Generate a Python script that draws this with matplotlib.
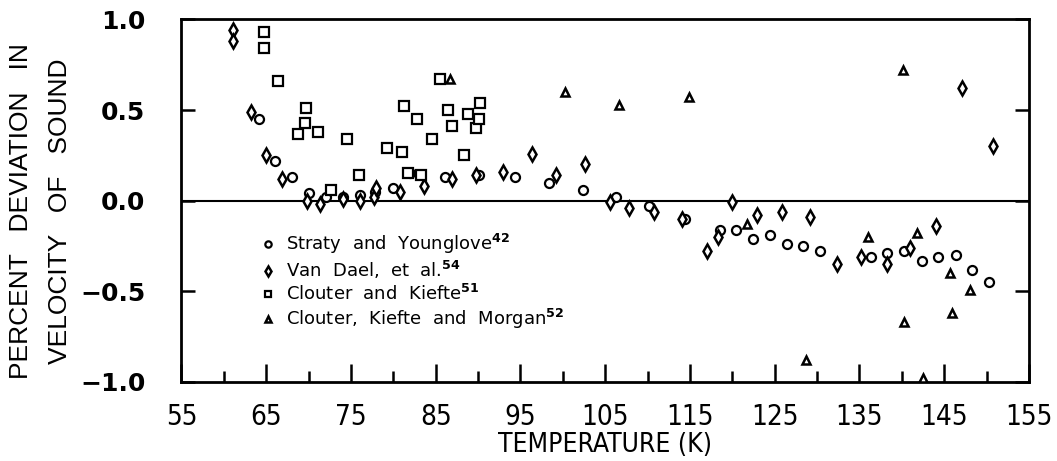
#!/usr/bin/env python

import matplotlib
matplotlib.use("Agg")
import matplotlib.pyplot as plt
from matplotlib.ticker import MultipleLocator

# Straty and Younglove (circles)
sy_t = [64.1, 66.0, 68.0, 70.0, 72.0, 74.0, 76.1, 77.8, 80.0, 82.0, 86.1, 90.1,
        94.3, 98.4, 102.4, 106.3, 110.2, 114.4, 118.5, 120.4, 122.4, 124.4, 126.4,
        128.3, 130.3, 136.4, 138.3, 140.3, 142.4, 144.3, 146.4, 148.3, 150.3]
sy_dev = [0.45, 0.22, 0.13, 0.04, 0.02, 0.02, 0.03, 0.05, 0.07, 0.15, 0.13, 0.14,
          0.13, 0.10, 0.06, 0.02, -0.03, -0.10, -0.16, -0.16, -0.21, -0.19, -0.24,
          -0.25, -0.28, -0.31, -0.29, -0.28, -0.33, -0.31, -0.30, -0.38, -0.45]

# Van Dael et al. (diamonds)
vd_t = [61.1, 61.1, 63.2, 65.0, 66.9, 69.8, 71.4, 74.0, 76.1, 77.7, 78.0, 80.8,
        83.6, 86.9, 89.8, 92.9, 96.3, 99.2, 102.6, 105.6, 107.8, 110.8, 114.1,
        117.0, 118.3, 120.0, 122.9, 125.9, 129.2, 132.3, 135.2, 138.2, 141.0,
        144.0, 147.1, 150.7]
vd_dev = [0.94, 0.88, 0.49, 0.25, 0.12, 0.00, -0.02, 0.01, 0.00, 0.02, 0.07, 0.05,
          0.08, 0.12, 0.14, 0.16, 0.26, 0.14, 0.20, -0.01, -0.04, -0.06, -0.10,
          -0.28, -0.20, -0.01, -0.08, -0.06, -0.09, -0.35, -0.31, -0.35, -0.26,
          -0.14, 0.62, 0.30]

# Clouter and Kiefte (squares)
ck_t = [64.7, 64.7, 66.4, 68.7, 69.7, 69.6, 71.1, 72.6, 74.5, 75.9, 79.3, 81.0,
        81.3, 81.7, 82.8, 83.3, 84.5, 85.5, 86.4, 86.9, 88.3, 88.8, 89.8, 90.1, 90.2]
ck_dev = [0.93, 0.84, 0.66, 0.37, 0.51, 0.43, 0.38, 0.06, 0.34, 0.14, 0.29, 0.27,
          0.52, 0.15, 0.45, 0.14, 0.34, 0.67, 0.50, 0.41, 0.25, 0.48, 0.40, 0.45, 0.54]

# Clouter, Kiefte and Morgan (triangles)
ckm_t = [86.7, 100.3, 106.6, 114.9, 121.7, 128.7, 136.0, 140.1, 140.3, 141.8,
         142.5, 145.7, 145.9, 148.0]
ckm_dev = [0.67, 0.60, 0.53, 0.57, -0.13, -0.88, -0.20, 0.72, -0.67, -0.18,
           -0.98, -0.40, -0.62, -0.49]

x_ticks = [55, 65, 75, 85, 95, 105, 115, 125, 135, 145, 155]
y_ticks = [-1.0, -0.5, 0.0, 0.5, 1.0]

series = [
    (sy_t, sy_dev, "o", 6.5, 1.6, r"Straty  and  Younglove$^{\mathbf{42}}$"),
    (vd_t, vd_dev, "d", 7.5, 1.8, r"Van  Dael,  et  al.$^{\mathbf{54}}$"),
    (ck_t, ck_dev, "s", 6.5, 1.6, r"Clouter  and  Kiefte$^{\mathbf{51}}$"),
    (ckm_t, ckm_dev, "^", 5.5, 1.8, r"Clouter,  Kiefte  and  Morgan$^{\mathbf{52}}$"),
]

NARROW = {"family": "DejaVu Sans", "stretch": "condensed"}


def main():
    fig = plt.figure(figsize=(10.57, 4.61), dpi=100)
    ax = fig.add_axes([0.1717, 0.1714, 0.8018, 0.7866])

    handles = []
    for t, dev, marker, size, ew, label in series:
        (h,) = ax.plot(t, dev, linestyle="none", marker=marker, markersize=size,
                       markerfacecolor="white", markeredgecolor="black",
                       markeredgewidth=ew, label=label, zorder=3)
        handles.append(h)

    ax.axhline(0.0, color="black", linewidth=1.5, zorder=2)

    ax.set_xlim(55, 155)
    ax.set_ylim(-1.0, 1.0)
    ax.set_xticks(x_ticks)
    ax.set_xticklabels([str(v) for v in x_ticks])
    ax.xaxis.set_minor_locator(MultipleLocator(5))
    ax.set_yticks(y_ticks)
    ax.set_yticklabels(["\u22121.0", "\u22120.5", "0.0", "0.5", "1.0"])

    for s in ax.spines.values():
        s.set_linewidth(2)

    ax.tick_params(axis="x", which="major", direction="in", length=13, width=1.8,
                   pad=15, labelsize=20)
    ax.tick_params(axis="x", which="minor", direction="in", length=8, width=1.8)
    ax.tick_params(axis="y", which="major", direction="in", length=10, width=1.8,
                   right=True, pad=26, labelsize=18)
    for lab in ax.get_xticklabels():
        lab.set_family(NARROW["family"])
        lab.set_stretch(NARROW["stretch"])
    for lab in ax.get_yticklabels():
        lab.set_family("DejaVu Sans")
        lab.set_fontweight("bold")

    ax.set_xlabel("TEMPERATURE (K)", fontsize=19, labelpad=1,
                  family=NARROW["family"], stretch=NARROW["stretch"])
    ylab = {"rotation": 90, "fontsize": 19, "ha": "center", "va": "center",
            "family": ["Liberation Sans", "DejaVu Sans"], "stretch": "normal"}
    fig.text(0.020, 0.542, "PERCENT   DEVIATION   IN", **ylab)
    fig.text(0.057, 0.542, "VELOCITY   OF   SOUND", **ylab)

    ax.legend(handles=handles, loc="upper left",
              bbox_to_anchor=(0.087, 0.434), frameon=False,
              handlelength=0.6, handletextpad=0.7, labelspacing=0.17,
              borderaxespad=0, prop={"size": 13, "family": "DejaVu Sans"},
              markerscale=0.7)

    fig.savefig("out.png", dpi=100)


if __name__ == "__main__":
    main()
